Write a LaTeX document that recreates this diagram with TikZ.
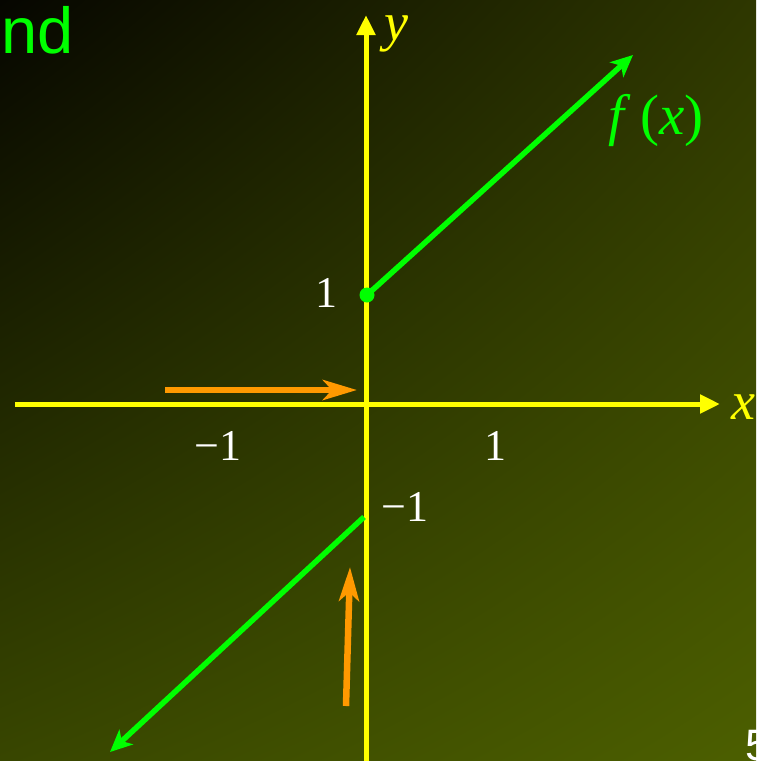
\documentclass[tikz,border=0pt]{standalone}
\usepackage{fontspec}
\setmainfont{Liberation Serif}
\newfontfamily\sansf{Liberation Sans}
\usetikzlibrary{arrows.meta,shadings}
\definecolor{bgUL}{HTML}{060600}
\definecolor{bgUR}{HTML}{2E3700}
\definecolor{bgLL}{HTML}{384600}
\definecolor{bgLR}{HTML}{4C5F00}
\definecolor{axisyellow}{HTML}{FFFF00}
\definecolor{fgreen}{HTML}{00FF00}
\definecolor{arrorange}{HTML}{FF9900}
\tikzset{
  axisline/.style={draw=axisyellow, line width=5pt, -{Triangle[length=20pt,width=18pt]}},
  graphline/.style={draw=fgreen, line width=5.5pt},
  graphtip/.style={-{Stealth[length=22pt,width=20pt,inset=6pt]}},
  hintarrow/.style={draw=arrorange, line width=6.5pt, -{Stealth[length=34pt,width=20pt,inset=9pt]}},
  numlabel/.style={text=white, font=\fontsize{44}{44}\selectfont, inner sep=0pt},
  varlabel/.style={text=axisyellow, font=\fontsize{54}{54}\selectfont\itshape, inner sep=0pt},
}
\begin{document}
\begin{tikzpicture}[x=1pt,y=-1pt]
\useasboundingbox (0,0) rectangle (756,761);
\shade[upper left=bgUL, upper right=bgUR, lower left=bgLL, lower right=bgLR] (0,0) rectangle (756,761);
% axes
\coordinate (xs) at (15,404);
\coordinate (xe) at (720,404);
\coordinate (ys) at (366,761);
\coordinate (ye) at (366,15);
\draw[axisline] (xs) -- (xe);
\draw[axisline] (ys) -- (ye);
% axis labels
\node[varlabel, anchor=base west] (xl) at (731,419) {x};
\node[varlabel, anchor=base west] (yl) at (384,40) {y};
% tick labels
\node[numlabel] (y1) at (326,293) {1};
\node[numlabel] (xm1) at (218,446) {−1};
\node[numlabel] (x1) at (495,446) {1};
\node[numlabel] (ym1) at (405,507) {−1};
% graph
\coordinate (dot) at (367,295);
\coordinate (up) at (633,55);
\coordinate (lowstart) at (364,517);
\coordinate (low) at (110,752);
\draw[graphline, graphtip] (dot) -- (up);
\draw[graphline, graphtip] (lowstart) -- (low);
\fill[fgreen] (dot) circle (7.5pt);
\node[text=fgreen, font=\fontsize{57}{57}\selectfont, inner sep=0pt] (fx) at (656,120) {\textit{f}\,(\textit{x})};
% orange hints
\coordinate (h1s) at (165,390);
\coordinate (h1e) at (357,390);
\coordinate (h2s) at (346,706);
\coordinate (h2e) at (350,567);
\draw[hintarrow] (h1s) -- (h1e);
\draw[hintarrow] (h2s) -- (h2e);
% corner texts
\node[text=fgreen, font=\sansf\fontsize{65}{65}\selectfont, inner sep=0pt, anchor=base east] (nd) at (74,53) {nd};
\node[text=white, font=\sansf\fontsize{44}{44}\selectfont, inner sep=0pt, anchor=base west] (pg) at (745,760) {5};
\end{tikzpicture}
\end{document}
